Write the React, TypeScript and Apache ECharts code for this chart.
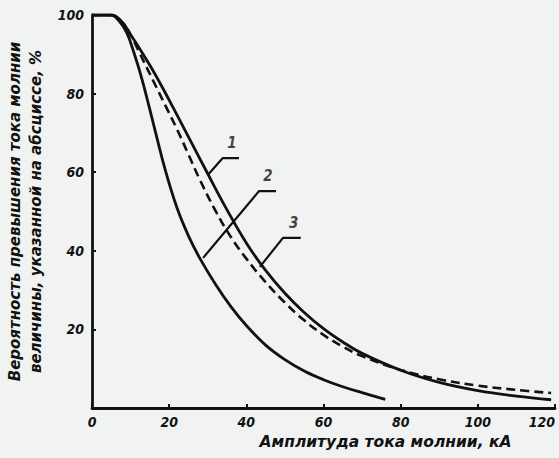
import React, { useEffect, useRef } from "react";
import * as echarts from "echarts";

const xTicks = [0, 20, 40, 60, 80, 100, 120];
const yTicks = [0, 20, 40, 60, 80, 100];

// Curve 1 (outer solid)
const curve1: [number, number][] = [
  [0, 100], [5, 100], [8, 98], [10, 95], [12, 92], [15, 87.2], [18, 82], [21, 76.5],
  [25, 69], [30, 59.6], [35, 50.4], [40, 42], [45, 35], [50, 29.2], [55, 24.3], [60, 20.2],
  [65, 16.8], [70, 13.9], [80, 9.6], [90, 6.5], [100, 4.4], [110, 3], [119, 2.1],
];
// Curve 2 (inner solid)
const curve2: [number, number][] = [
  [0, 100], [5, 100], [7, 98.5], [9, 95.5], [11, 90], [13, 83.5], [16, 72], [19, 60.5],
  [22, 51], [25, 43.8], [28, 38], [32, 31.5], [36, 25.8], [40, 21], [45, 16], [50, 12.3],
  [55, 9.4], [60, 7.2], [65, 5.4], [70, 3.9], [76, 2.2],
];
// Curve 3 (dashed)
const curve3: [number, number][] = [
  [0, 100], [5, 100], [8, 98], [10, 95], [12, 91], [16, 83], [19, 77], [22, 71],
  [25, 64.5], [28, 58], [32, 50.2], [36, 43.5], [40, 38], [45, 32], [50, 26.8], [55, 22.3],
  [60, 18.6], [65, 15.6], [70, 13.2], [80, 9.7], [90, 7.3], [100, 5.7], [110, 4.6], [119, 3.8],
];

// Leader lines for curve numbers: [start, bend, end], label position
const leaders: { name: string; pts: [number, number][]; text: [number, number] }[] = [
  { name: "1", pts: [[30, 59.3], [33.9, 63.6], [38.1, 63.6]], text: [36.3, 67.5] },
  { name: "2", pts: [[28.8, 38.2], [43.3, 55.2], [47.7, 55.2]], text: [45.6, 59] },
  { name: "3", pts: [[43.5, 35.9], [49.5, 43.3], [54.1, 43.3]], text: [52.3, 47] },
];

const FONT = "'DejaVu Sans Condensed', 'DejaVu Sans', sans-serif";
const NAME_FONT = "'DejaVu Sans', sans-serif";

export default function App() {
  const ref = useRef<HTMLDivElement>(null);
  useEffect(() => {
    if (!ref.current) return;
    const chart = echarts.init(ref.current, null, { renderer: "svg" });
    const lineStyleBase = { color: "#111", width: 2.8 };
    const series: any[] = [
      { type: "line", data: curve1, smooth: 0.4, symbol: "none", lineStyle: { ...lineStyleBase } },
      { type: "line", data: curve2, smooth: 0.4, symbol: "none", lineStyle: { ...lineStyleBase } },
      { type: "line", data: curve3, smooth: 0.4, symbol: "none", lineStyle: { ...lineStyleBase, width: 2.6, type: [9, 5] } },
    ];
    leaders.forEach((l) => {
      series.push({
        type: "line",
        data: l.pts,
        symbol: "none",
        lineStyle: { color: "#111", width: 2.2 },
        silent: true,
      });
      series.push({
        type: "scatter",
        data: [l.text],
        symbolSize: 0,
        label: {
          show: true,
          formatter: l.name,
          position: "inside",
          color: "#111",
          fontFamily: FONT,
          fontStyle: "italic",
          fontWeight: "bold",
          fontSize: 15,
        },
      });
    });
    chart.setOption({
      animation: false,
      backgroundColor: "#f1f3f3",
      grid: { left: 92, right: 4, top: 15, bottom: 50, containLabel: false, outerBoundsMode: "none" },
      xAxis: {
        type: "value",
        min: 0,
        max: 120,
        interval: 20,
        axisLine: { show: true, onZero: false, lineStyle: { color: "#111", width: 2.8 } },
        axisTick: { show: true, inside: true, length: 4, lineStyle: { color: "#111", width: 2 } },
        splitLine: { show: false },
        axisLabel: {
          color: "#111",
          fontFamily: FONT,
          fontStyle: "italic",
          fontWeight: "bold",
          fontSize: 14,
          margin: 7,
          alignMaxLabel: "right",
          formatter: (v: number) => (xTicks.includes(v) ? String(v) : ""),
        },
        name: "Амплитуда тока молнии, кА",
        nameLocation: "middle",
        nameGap: 25,
        nameTextStyle: {
          color: "#111",
          fontFamily: NAME_FONT,
          fontStyle: "italic",
          fontWeight: "bold",
          fontSize: 15.5,
          padding: [0, 0, 0, 124],
        },
      },
      yAxis: {
        type: "value",
        min: 0,
        max: 100,
        interval: 20,
        axisLine: { show: true, lineStyle: { color: "#111", width: 2.8 } },
        axisTick: { show: true, inside: true, length: 4, lineStyle: { color: "#111", width: 2 } },
        splitLine: { show: false },
        axisLabel: {
          color: "#111",
          fontFamily: FONT,
          fontStyle: "italic",
          fontWeight: "bold",
          fontSize: 14,
          margin: 8,
          showMinLabel: false,
          formatter: (v: number) => (yTicks.includes(v) && v !== 0 ? String(v) : ""),
        },
        name: "Вероятность превышения тока молнии\nвеличины, указанной на абсциссе, %",
        nameLocation: "middle",
        nameGap: 36,
        nameRotate: 90,
        nameTextStyle: {
          color: "#111",
          fontFamily: NAME_FONT,
          fontStyle: "italic",
          fontWeight: "bold",
          fontSize: 15,
          lineHeight: 21,
        },
      },
      series,
    });
    return () => chart.dispose();
  }, []);
  return (
    <div
      ref={ref}
      style={{ position: "fixed", left: 0, top: 0, width: 559, height: 458 }}
    />
  );
}
